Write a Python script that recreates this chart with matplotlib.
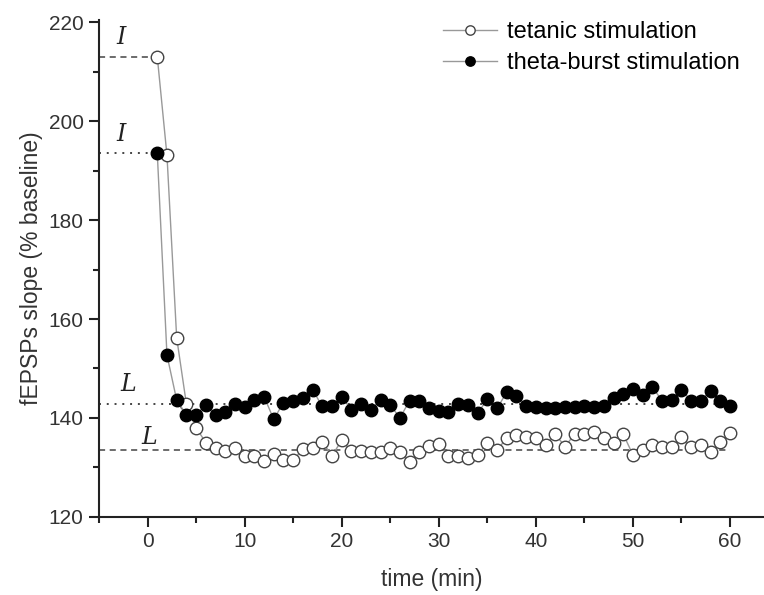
import matplotlib
matplotlib.use("Agg")
import matplotlib.pyplot as plt
from matplotlib.ticker import MultipleLocator

plt.rcParams['font.family'] = ['Liberation Sans', 'DejaVu Sans']

# Data
time = list(range(1, 61))
tetanic = [213.1, 193.1, 156.2, 142.8, 138.0, 135.0, 134.0, 133.2, 133.8, 132.3,
           132.2, 131.3, 132.7, 131.5, 131.5, 133.6, 134.0, 135.2, 132.3, 135.5,
           133.2, 133.2, 133.0, 133.0, 133.8, 133.0, 131.1, 133.0, 134.3, 134.7,
           132.3, 132.3, 131.8, 132.5, 134.9, 133.5, 135.9, 136.5, 136.1, 135.9,
           134.5, 136.7, 134.2, 136.7, 136.7, 137.2, 135.9, 134.9, 136.7, 132.5,
           133.5, 134.5, 134.2, 134.2, 136.1, 134.2, 134.5, 133.0, 135.2, 136.9]
theta = [193.6, 152.7, 143.6, 140.6, 140.6, 142.6, 140.6, 141.1, 142.8, 142.1,
         143.6, 144.3, 139.7, 143.1, 143.4, 144.0, 145.7, 142.3, 142.3, 144.3,
         141.6, 142.8, 141.6, 143.6, 142.6, 140.0, 143.5, 143.5, 141.9, 141.3,
         141.1, 142.8, 142.6, 140.9, 143.8, 141.9, 145.2, 144.5, 142.4, 142.2,
         142.0, 142.0, 142.2, 142.2, 142.4, 142.2, 142.4, 144.0, 144.8, 145.8,
         144.6, 146.2, 143.5, 143.6, 145.6, 143.5, 143.4, 145.5, 143.5, 142.3]

# reference levels (initial I and late L)
tet_I, theta_I = 213.1, 193.6
tet_L, theta_L = 133.4, 142.9

fig = plt.figure(figsize=(7.64, 5.95), dpi=100)
ax = fig.add_axes([0.1296, 0.1316, 0.8704, 0.8348])

# reference lines
ax.plot([-5, 1], [tet_I, tet_I], ls=(0, (4, 3)), color='#444444', lw=1.1, zorder=1)
ax.plot([-5, 1], [theta_I, theta_I], ls=(0, (1, 3)), color='#444444', lw=1.4, zorder=1)
ax.plot([-5, 60], [tet_L, tet_L], ls=(0, (4, 3)), color='#444444', lw=1.1, zorder=1)
ax.plot([-5, 60], [theta_L, theta_L], ls=(0, (1, 3)), color='#444444', lw=1.4, zorder=1)

ax.plot(time, tetanic, '-o', color='#999999', lw=1.0, ms=9,
        mfc='white', mec='#444444', mew=1.0, label='tetanic stimulation', zorder=3)
ax.plot(time, theta, '-o', color='#999999', lw=1.0, ms=9,
        mfc='black', mec='black', label='theta-burst stimulation', zorder=4)

# level labels
lab_font = dict(family='DejaVu Serif', style='italic', fontsize=17, color='#222222')
ax.text(-2.7, 216.9, 'I', ha='center', va='center', **lab_font)
ax.text(-2.7, 197.3, 'I', ha='center', va='center', **lab_font)
ax.text(-2.0, 146.7, 'L', ha='center', va='center', **lab_font)
ax.text(0.2, 136.1, 'L', ha='center', va='center', **lab_font)

ax.set_xlim(-5, 63.5)
ax.set_ylim(120, 220.5)
ax.xaxis.set_major_locator(MultipleLocator(10))
ax.xaxis.set_minor_locator(MultipleLocator(5))
ax.yaxis.set_major_locator(MultipleLocator(20))
ax.yaxis.set_minor_locator(MultipleLocator(10))

for s in ['top', 'right']:
    ax.spines[s].set_visible(False)
for s in ['left', 'bottom']:
    ax.spines[s].set_linewidth(1.5)
    ax.spines[s].set_color('#222222')

ax.tick_params(which='major', direction='out', length=7, width=1.5, labelsize=15,
               labelcolor='#333333', color='#222222', pad=4)
ax.tick_params(which='minor', direction='out', length=4, width=1.5, color='#222222')

ax.set_xlabel('time (min)', fontsize=16.5, color='#333333', labelpad=12)
ax.set_ylabel('fEPSPs slope (% baseline)', fontsize=16.5, color='#333333', labelpad=4)

fig.legend(loc='upper left', bbox_to_anchor=(443 / 764, 1 - 21 / 595), frameon=False,
           fontsize=17, handlelength=2.3, handletextpad=0.4, labelspacing=0.4,
           borderpad=0, borderaxespad=0, markerscale=0.75)

fig.savefig('out.png', dpi=100)
